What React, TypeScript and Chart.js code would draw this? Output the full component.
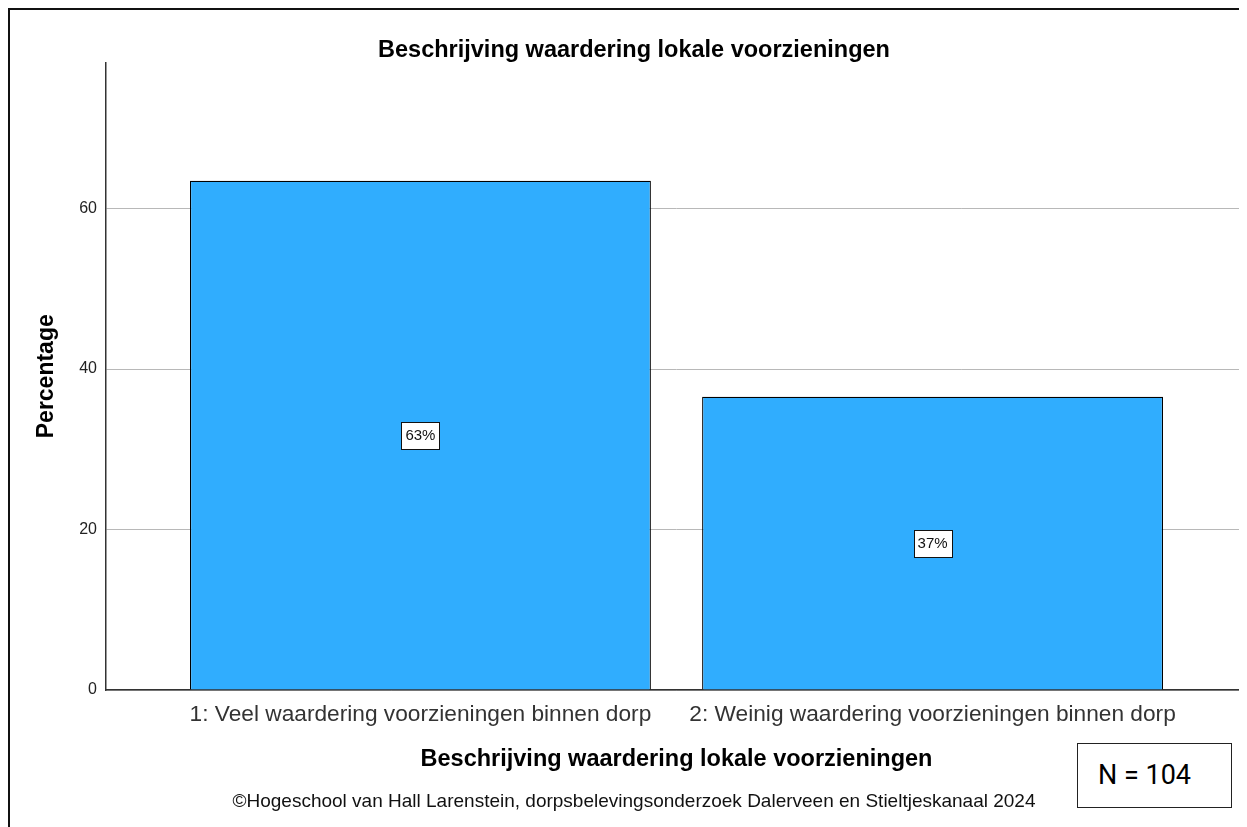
import React, { useEffect, useRef } from 'react';
import { Chart, registerables } from 'chart.js';

Chart.register(...registerables);

// ---- data ----
const chartTitle = 'Beschrijving waardering lokale voorzieningen';
const xAxisTitle = 'Beschrijving waardering lokale voorzieningen';
const yAxisTitle = 'Percentage';
const footerText =
  '©Hogeschool van Hall Larenstein, dorpsbelevingsonderzoek Dalerveen en Stieltjeskanaal 2024';
const nLabel = 'N = 104';
const categories = [
  '1: Veel waardering voorzieningen binnen dorp',
  '2: Weinig waardering voorzieningen binnen dorp',
];
const categoryPositions = [1, 2];
const percentages = [63.46, 36.54];
const yTicks = [0, 20, 40, 60];

const FONT = "'Liberation Sans', Arial, Helvetica, sans-serif";

const barLabelPlugin = {
  id: 'barLabels',
  afterDatasetsDraw(chart: any) {
    const ctx = chart.ctx;
    const meta = chart.getDatasetMeta(0);
    ctx.save();
    ctx.font = `15px ${FONT}`;
    ctx.textAlign = 'center';
    ctx.textBaseline = 'middle';
    meta.data.forEach((el: any, i: number) => {
      const { x, y, base } = el.getProps(['x', 'y', 'base'], true);
      const cy = (y + base) / 2;
      const text = Math.round(percentages[i]) + '%';
      const w = Math.round(ctx.measureText(text).width + 8);
      const h = 27;
      const left = Math.round(x - w / 2) + 0.5;
      const top = Math.round(cy - h / 2) + 0.5;
      ctx.fillStyle = '#ffffff';
      ctx.fillRect(left, top, w, h);
      ctx.strokeStyle = '#111111';
      ctx.lineWidth = 1;
      ctx.strokeRect(left, top, w, h);
      ctx.fillStyle = '#111111';
      ctx.fillText(text, x, cy + 1);
    });
    ctx.restore();
  },
};

export default function App() {
  const canvasRef = useRef<HTMLCanvasElement | null>(null);

  useEffect(() => {
    document.documentElement.style.overflow = 'hidden';
    document.body.style.overflow = 'hidden';
    if (!canvasRef.current) return;
    Chart.defaults.font.family = FONT;
    const chart = new Chart(canvasRef.current, {
      type: 'bar',
      data: {
        datasets: [
          {
            data: categoryPositions.map((x, i) => ({ x, y: percentages[i] })),
            backgroundColor: '#30adfe',
            borderColor: '#000000',
            borderWidth: 1.2,
            categoryPercentage: 0.9,
            barPercentage: 1,
          } as any,
        ],
      },
      options: {
        animation: false,
        responsive: false,
        events: [],
        layout: { padding: { top: 0, left: 11, right: 0, bottom: 13.6 } },
        plugins: {
          legend: { display: false },
          tooltip: { enabled: false },
          title: {
            display: true,
            text: chartTitle,
            color: '#000000',
            font: { size: 23.5, weight: 'bold', lineHeight: 1 },
            padding: { top: 29, bottom: 0 },
          },
          subtitle: {
            display: true,
            position: 'bottom',
            text: footerText,
            color: '#111111',
            font: { size: 19, weight: 'normal', lineHeight: 1.2 },
            padding: { top: 0.6, bottom: 0 },
          },
        },
        scales: {
          x: {
            type: 'linear',
            offset: false,
            min: 0.386,
            max: 2.614,
            afterBuildTicks: (s: any) => {
              s.ticks = categoryPositions.map((v) => ({ value: v }));
            },
            afterFit: (s: any) => {
              s.height = 100;
            },
            grid: { display: false, drawTicks: false, offset: false },
            border: { display: true, color: '#333333', width: 1.5 },
            ticks: {
              callback: (v: any) => {
                const idx = categoryPositions.indexOf(Number(v));
                return idx >= 0 ? categories[idx] : '';
              },
              font: { size: 22.7 },
              color: '#333333',
              padding: 11,
              maxRotation: 0,
              minRotation: 0,
              autoSkip: false,
            },
            title: {
              display: true,
              text: xAxisTitle,
              color: '#000000',
              font: { size: 23.5, weight: 'bold', lineHeight: 1.2 },
              padding: { top: 0, bottom: 16 },
            },
          },
          y: {
            type: 'linear',
            min: 0,
            max: 78.2,
            afterBuildTicks: (s: any) => {
              s.ticks = yTicks.map((v) => ({ value: v }));
            },
            afterFit: (s: any) => {
              s.width = 85;
            },
            grid: { color: '#b8b8b8', lineWidth: 1, drawTicks: false },
            border: { display: true, color: '#333333', width: 1.5 },
            ticks: { font: { size: 16 }, color: '#222222', padding: 9 },
            title: {
              display: true,
              text: yAxisTitle,
              color: '#000000',
              font: { size: 23, weight: 'bold', lineHeight: 1.2 },
              padding: { top: 12.2, bottom: 0 },
            },
          },
        },
      } as any,
      plugins: [barLabelPlugin],
    });
    return () => chart.destroy();
  }, []);

  return (
    <div
      style={{
        position: 'relative',
        width: 1237,
        height: 817,
        borderTop: '2px solid #111',
        borderLeft: '2px solid #111',
        background: '#ffffff',
      }}
    >
      <canvas
        ref={canvasRef}
        width={1237}
        height={817}
        style={{ display: 'block', width: 1237, height: 817 }}
      />
      <div
        style={{
          position: 'absolute',
          left: 1067,
          top: 733,
          width: 155,
          height: 65,
          boxSizing: 'border-box',
          border: '1.5px solid #222',
          background: '#ffffff',
          display: 'flex',
          alignItems: 'center',
          paddingLeft: 20,
          fontFamily: "Roboto, 'Noto Sans', sans-serif",
          fontSize: 27,
          color: '#000000',
          lineHeight: 1,
        }}
      >
        {nLabel}
      </div>
    </div>
  );
}
